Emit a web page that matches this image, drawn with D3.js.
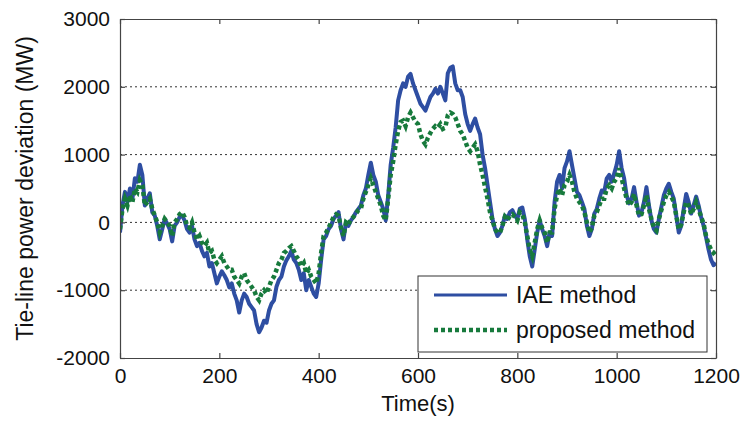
<!DOCTYPE html>
<html><head><meta charset="utf-8">
<script src="https://cdn.jsdelivr.net/npm/d3@7"></script>
<style>body{margin:0;background:#fff}svg{display:block}text{font-family:"Liberation Sans",Arial,sans-serif;fill:#111}</style>
</head><body>
<svg id="c" width="744" height="426"></svg>
<script>
const timeStep = 5;
const iaeMethod = [-150,250,450,300,500,350,650,600,850,700,250,350,430,150,100,-50,-250,-100,50,-20,
-100,-280,-50,0,80,100,30,-100,-150,-50,-250,-350,-300,-420,-500,-450,-650,-600,-750,-900,
-800,-720,-780,-850,-960,-900,-1050,-1150,-1330,-1150,-1050,-1100,-1200,-1250,-1300,-1500,-1620,-1550,-1450,-1480,
-1300,-1200,-1150,-950,-850,-800,-650,-560,-500,-420,-550,-600,-700,-850,-750,-1000,-850,-950,-1050,-1100,
-900,-550,-250,-200,-100,-50,50,100,150,-100,-250,0,-50,30,80,150,200,250,400,500,
700,880,700,600,400,300,200,30,400,850,1100,1400,1800,1950,2050,2000,2150,2190,2050,1950,
1850,1750,1700,1650,1750,1850,1900,1970,1900,2000,1900,1800,2200,2280,2300,2050,1950,1950,1850,1600,
1450,1350,1450,1530,1400,1300,1000,800,550,300,50,-100,-200,-150,-50,100,50,150,180,100,
50,200,220,50,-250,-500,-650,-400,-150,30,-100,-200,-350,-150,-200,300,600,700,500,800,
900,1050,850,650,450,400,300,200,-50,-200,-100,130,200,350,470,450,650,700,600,720,
850,1050,800,650,400,280,350,520,300,100,150,300,520,250,30,-100,-150,50,225,400,
500,570,450,350,100,-150,-50,200,420,300,130,250,380,250,80,-50,-220,-400,-550,-630,
-600];
const proposedMethod = [-100,200,350,250,400,300,500,450,620,550,250,300,350,200,100,0,-150,-50,50,0,
-50,-200,0,50,120,150,80,-50,-80,0,-150,-250,-200,-300,-350,-300,-450,-420,-550,-600,
-550,-500,-600,-650,-700,-700,-800,-850,-900,-800,-750,-850,-900,-950,-1000,-1100,-1150,-1050,-1000,-1050,
-950,-850,-800,-700,-600,-550,-450,-420,-380,-350,-420,-500,-550,-650,-600,-750,-700,-800,-850,-900,
-750,-450,-200,-150,-80,0,80,120,100,-80,-200,0,-30,50,80,130,180,200,350,450,
550,650,550,450,350,250,100,30,350,700,900,1150,1350,1480,1500,1420,1550,1620,1550,1480,
1450,1300,1200,1150,1250,1320,1380,1420,1400,1450,1380,1400,1580,1620,1600,1550,1450,1350,1300,1200,
1100,1050,1100,1150,1050,850,700,520,350,150,30,-100,-150,-150,-50,80,30,100,120,80,
30,150,120,0,-200,-400,-500,-300,-100,30,-80,-150,-300,-150,-150,200,400,500,400,550,
600,700,600,450,350,300,250,150,0,-150,-80,100,150,250,350,350,500,550,500,600,
650,800,650,500,350,250,300,420,250,100,120,250,400,200,50,-80,-120,50,180,300,
400,450,380,300,100,-100,-30,150,300,250,120,200,300,200,80,-20,-200,-320,-400,-450,
-420];
const xTicks = [0,200,400,600,800,1000,1200];
const yTicks = [-2000,-1000,0,1000,2000,3000];
const gridValues = [-1000,0,1000,2000];
const seriesNames = ["IAE method","proposed method"];

const svg = d3.select("#c");
const L=120,R=716,T=19,B=358;
const x = d3.scaleLinear().domain([0,1200]).range([L,R]);
const y = d3.scaleLinear().domain([-2000,3000]).range([B,T]);
const fmt = d => String(d);

// grid
svg.append("g").selectAll("line").data(gridValues).join("line")
  .attr("x1",L).attr("x2",R).attr("y1",d=>y(d)).attr("y2",d=>y(d))
  .attr("stroke","#333").attr("stroke-width",1).attr("stroke-dasharray","2,3");

svg.append("clipPath").attr("id","pc").append("rect")
  .attr("x",L).attr("y",T).attr("width",R-L).attr("height",B-T);

const line = d3.line().x((d,i)=>x(i*timeStep)).y(d=>y(d));
const g = svg.append("g").attr("clip-path","url(#pc)");
g.append("path").datum(iaeMethod).attr("d",line).attr("fill","none")
  .attr("stroke","#2e4ea2").attr("stroke-width",4).attr("stroke-linejoin","round");
g.append("path").datum(proposedMethod).attr("d",line).attr("fill","none")
  .attr("stroke","#177a3c").attr("stroke-width",4.5).attr("stroke-dasharray","4,3");

// axes (inward ticks, MATLAB style)
const mkAxis = (gen, tr) => svg.append("g").attr("transform",tr).call(gen);
const axB = mkAxis(d3.axisBottom(x).tickValues(xTicks).tickFormat(fmt).tickSizeInner(-5).tickSizeOuter(0).tickPadding(10), `translate(0,${B})`);
const axT = mkAxis(d3.axisTop(x).tickValues(xTicks).tickSizeInner(-5).tickSizeOuter(0).tickFormat(""), `translate(0,${T})`);
const axL = mkAxis(d3.axisLeft(y).tickValues(yTicks).tickFormat(fmt).tickSizeInner(-5).tickSizeOuter(0).tickPadding(10), `translate(${L},0)`);
const axR = mkAxis(d3.axisRight(y).tickValues(yTicks).tickSizeInner(-5).tickSizeOuter(0).tickFormat(""), `translate(${R},0)`);
[axB,axT,axL,axR].forEach(a=>{
  a.select(".domain").attr("stroke","#444").attr("stroke-width",1.2);
  a.selectAll(".tick line").attr("stroke","#444").attr("stroke-width",1.2);
  a.selectAll("text").style("font-family","Liberation Sans, Arial, sans-serif").style("font-size","21px").attr("fill","#111");
});

svg.append("text").attr("x",(L+R)/2).attr("y",411).attr("text-anchor","middle")
  .style("font-size","22px").text("Time(s)");
svg.append("text").attr("transform",`translate(33,${(T+B)/2}) rotate(-90)`).attr("text-anchor","middle")
  .style("font-size","23px").text("Tie-line power deviation (MW)");

// legend
const lg = svg.append("g");
lg.append("rect").attr("x",418).attr("y",276).attr("width",289).attr("height",76)
  .attr("fill","#fff").attr("stroke","#333").attr("stroke-width",1);
const colors = ["#2e4ea2","#177a3c"], widths=[3.2,4.5], dashes=[null,"4,3"];
seriesNames.forEach((n,i)=>{
  const yy = 295 + i*35;
  lg.append("line").attr("x1",434).attr("x2",507).attr("y1",yy).attr("y2",yy)
    .attr("stroke",colors[i]).attr("stroke-width",widths[i]).attr("stroke-dasharray",dashes[i]);
  lg.append("text").attr("x",516).attr("y",yy+8).style("font-size","23px").text(n);
});
</script>
</body></html>
